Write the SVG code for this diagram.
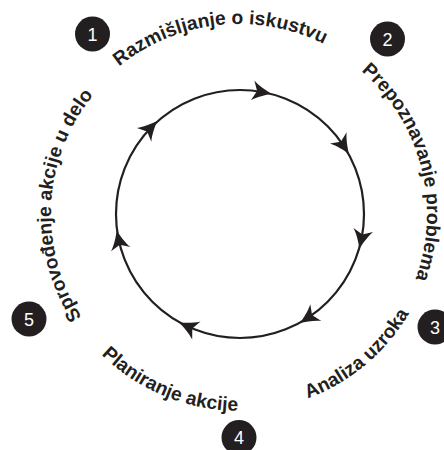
<svg xmlns="http://www.w3.org/2000/svg" xmlns:xlink="http://www.w3.org/1999/xlink" width="444" height="450" viewBox="0 0 444 450">
<style>
.lbl{font-family:"Liberation Sans",Arial,sans-serif;font-weight:bold;font-size:19.3px;fill:#231f20}
.num{font-family:"Liberation Sans",Arial,sans-serif;font-size:18px;fill:#ffffff;text-anchor:middle}
.badge{fill:#231f20}
.ring{fill:none;stroke:#231f20;stroke-width:2.2}
.ah{fill:#231f20}
</style>
<defs>
<path id="ah" d="M10,0 C4.5,-2.2 -3.5,-5.5 -9,-10 L-4.5,0 L-9,10 C-3.5,5.5 4.5,2.2 10,0 Z"/>
<path id="p1" d="M49.4,201.6 A190,190 0 0 1 421.4,160.8"/>
<path id="p2" d="M223.9,26.6 A188,188 0 0 1 317.3,384.9"/>
<path id="p3" d="M112.6,365.1 A197,197 0 0 0 409.4,115.2"/>
<path id="p4" d="M46.6,171.9 A197,197 0 0 0 405.4,319.4"/>
<path id="p5" d="M196.7,397.2 A188,188 0 0 1 216.1,27.4"/>
</defs>
<g id="connectors">
<circle class="ring" cx="240" cy="214" r="124"/>
<use class="ah" href="#ah" transform="translate(261.5,91.9) rotate(10)"/>
<use class="ah" href="#ah" transform="translate(343.3,145.4) rotate(56.4)"/>
<use class="ah" href="#ah" transform="translate(361.5,238.9) rotate(101.6)"/>
<use class="ah" href="#ah" transform="translate(308.3,317.5) rotate(146.6)"/>
<use class="ah" href="#ah" transform="translate(188.2,326.7) rotate(204.7)"/>
<use class="ah" href="#ah" transform="translate(118.9,240.4) rotate(257.7)"/>
<use class="ah" href="#ah" transform="translate(150.3,128.3) rotate(313.7)"/>
</g>
<g id="step1">
<circle class="badge" cx="92.5" cy="34" r="17.5"/>
<text class="num" x="92.5" y="40.5">1</text>
<text class="lbl"><textPath href="#p1" startOffset="50%" text-anchor="middle">Razmišljanje o iskustvu</textPath></text>
</g>
<g id="step2">
<circle class="badge" cx="387.5" cy="39" r="17.5"/>
<text class="num" x="387.5" y="45.5">2</text>
<text class="lbl"><textPath href="#p2" startOffset="50%" text-anchor="middle">Prepoznavanje problema</textPath></text>
</g>
<g id="step3">
<circle class="badge" cx="435" cy="327" r="17.5"/>
<text class="num" x="435" y="333.5">3</text>
<text class="lbl"><textPath href="#p3" startOffset="50%" text-anchor="middle">Analiza uzroka</textPath></text>
</g>
<g id="step4">
<circle class="badge" cx="239" cy="437.5" r="17.5"/>
<text class="num" x="239" y="444">4</text>
<text class="lbl"><textPath href="#p4" startOffset="50%" text-anchor="middle">Planiranje akcije</textPath></text>
</g>
<g id="step5">
<circle class="badge" cx="29" cy="319" r="17.5"/>
<text class="num" x="29" y="325.5">5</text>
<text class="lbl"><textPath href="#p5" startOffset="50%" text-anchor="middle">Sprovođenje akcije u delo</textPath></text>
</g>
</svg>
